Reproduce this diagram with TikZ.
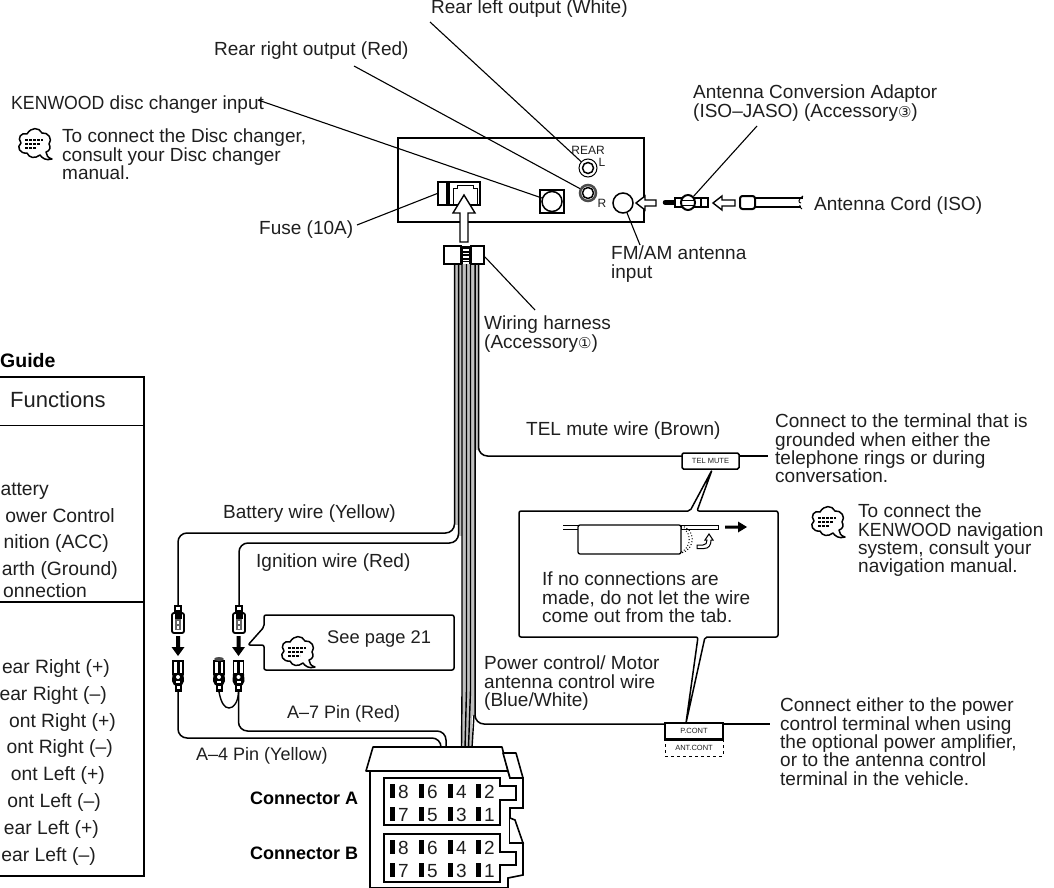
\documentclass[tikz,border=0pt]{standalone}
\usepackage{fontspec}
\setmainfont{Liberation Sans}
\newfontfamily\circfont{DejaVu Sans}
\usetikzlibrary{shapes.geometric,calc}
\definecolor{ink}{gray}{0.12}
\newcommand{\circnum}[1]{{\circfont\fontsize{15}{15}\selectfont #1}}
\newcommand{\kwd}{\scalebox{0.93}[1]{KENWOOD}}
\tikzset{
  txt/.style={inner sep=0pt,anchor=base west,text=ink,font=\fontsize{19}{18.3}\selectfont},
  blk/.style={inner sep=0pt,anchor=north west,align=left,text=ink,font=\fontsize{19}{18.3}\selectfont},
  rtxt/.style={inner sep=0pt,anchor=base east,text=ink,font=\fontsize{19.3}{20}\selectfont},
  btxt/.style={inner sep=0pt,anchor=base west,text=black,font=\fontsize{18}{18.3}\selectfont\bfseries},
  smalltxt/.style={inner sep=0pt,text=ink,font=\fontsize{12}{12}\selectfont},
  tagtxt/.style={inner sep=0pt,text=ink,font=\fontsize{7.5}{8}\selectfont},
  lead/.style={draw=black,line width=1.1pt},
  wire/.style={draw=black,line width=1.5pt,rounded corners=9pt},
  thickbox/.style={draw=black,line width=2pt,fill=white},
  callout/.style={draw=black,line width=1.5pt,fill=white,rounded corners=2pt,line join=round},
  hollow/.style={draw=black,line width=1.4pt,fill=white,line join=miter},
  bubbleicon/.pic={
    \draw[line width=1.5pt,fill=white,line join=round] (-8,-10) .. controls (-4,-17) and (4,-17) .. (7,-11)
      .. controls (13,-12) and (18,-5) .. (14,0)
      .. controls (16,3) and (15,7) .. (11,8)
      .. controls (11,11) and (13,14) .. (17,15)
      .. controls (11,17) and (7,14) .. (5,11)
      .. controls (0,15) and (-6,14) .. (-8,9)
      .. controls (-15,10) and (-19,3) .. (-14,-1)
      .. controls (-18,-6) and (-14,-12) .. (-8,-10) -- cycle;
    \draw[line width=1.7pt,dash pattern=on 3pt off 1pt] (-10,-4) -- (8,-4);
    \draw[line width=1.7pt,dash pattern=on 3pt off 1pt] (-10,0) -- (5,0);
    \draw[line width=1.7pt,dash pattern=on 3pt off 1pt] (-10,4) -- (2,4);
  },
  maleplug/.pic={
    \fill[black] (-4,0) rectangle (4,8);
    \fill[white] (-2,2) rectangle (2,5);
    \draw[line width=1.8pt,fill=white,rounded corners=2pt] (-6,8) rectangle (6,28);
    \fill[black] (-3.5,8) rectangle (3.5,14);
    \fill[black!60] (-3,14) rectangle (3,25);
    \fill[white] (-1,16) rectangle (1,19);
    \fill[white] (-1,21) rectangle (1,24);
  },
  femaleplug/.pic={
    \draw[line width=1.6pt,fill=white] (-5,0) rectangle (5,13);
    \fill[black] (-1.5,1) rectangle (1.5,13);
    \fill[black] (-5.5,13) -- (5.5,13) -- (6,20) -- (4,24) -- (-4,24) -- (-6,20) -- cycle;
    \fill[white] (0,16) circle (2);
    \fill[white] (-2,20) rectangle (2,22);
    \fill[black] (-3.5,24) rectangle (3.5,31);
    \fill[white] (-1.5,25) rectangle (1.5,28);
  },
  blackarrow/.pic={
    \fill[black] (-2,0) -- (2,0) -- (2,11) -- (6.5,11) -- (0,20) -- (-6.5,11) -- (-2,11) -- cycle;
  }
}
\begin{document}
\begin{tikzpicture}[x=1pt,y=-1pt]
\useasboundingbox (0,0) rectangle (1054,888);
\fill[white] (0,0) rectangle (1054,888);

% ---------- left table
\node[btxt,font=\fontsize{19.5}{18.3}\selectfont\bfseries] (guide) at (0,367) {Guide};
\node[txt,font=\fontsize{22}{22}\selectfont] (funct) at (10,407) {Functions};
\draw[line width=1.8pt] (0,377) -- (144,377) -- (144,876) -- (0,876);
\draw[line width=1pt] (0,425) -- (144,425);
\draw[line width=1.5pt] (0,602) -- (144,602);
\node[rtxt] (t1) at (49,495) {attery};
\node[rtxt] (t2) at (115,522) {ower Control};
\node[rtxt] (t3) at (109,548) {nition (ACC)};
\node[rtxt] (t4) at (118,575) {arth (Ground)};
\node[rtxt] (t5) at (87,597) {onnection};
\node[rtxt] (t6) at (110,673) {ear Right (+)};
\node[rtxt] (t7) at (107,700) {ear Right (–)};
\node[rtxt] (t8) at (116,727) {ont Right (+)};
\node[rtxt] (t9) at (113,753) {ont Right (–)};
\node[rtxt] (t10) at (105,780) {ont Left (+)};
\node[rtxt] (t11) at (101,807) {ont Left (–)};
\node[rtxt] (t12) at (99,834) {ear Left (+)};
\node[rtxt] (t13) at (96,861) {ear Left (–)};

% ---------- head unit
\node[thickbox,minimum width=246pt,minimum height=84pt,inner sep=0pt] (unit) at (521,180) {};
\node[draw=black,line width=1.5pt,fill=white,minimum width=9pt,minimum height=23pt,inner sep=0pt] (fuse) at (442.5,193.5) {};
\node[draw=black,line width=1.8pt,fill=white,minimum width=31pt,minimum height=23pt,inner sep=0pt] (socket) at (464.5,193.5) {};
\draw[line width=1pt] (453,204) -- (453,188) -- (457,188) -- (457,185) -- (473,185) -- (473,188) -- (477,188) -- (477,204);
\draw[hollow] (460,242) -- (460,213) -- (453,213) -- (464,195) -- (475,213) -- (468,213) -- (468,242) -- cycle;
\node[draw=black,line width=1.6pt,fill=white,minimum width=24pt,minimum height=23pt,inner sep=0pt] (discsq) at (552,201.5) {};
\node[circle,draw=black,line width=1.5pt,fill=white,minimum size=20pt,inner sep=0pt] (disc) at (552,201.5) {};
\node[circle,draw=black,line width=1pt,fill=white,minimum size=18pt,inner sep=0pt] (jackL) at (588,168) {};
\node[circle,draw=black,line width=1.5pt,fill=white,minimum size=11pt,inner sep=0pt] (jackLi) at (588,168) {};
\node[circle,draw=black!70,line width=2.5pt,fill=white,minimum size=16pt,inner sep=0pt] (jackR) at (588,193) {};
\node[circle,draw=black,line width=1.5pt,fill=white,minimum size=11pt,inner sep=0pt] (jackRi) at (588,193) {};
\node[smalltxt] (rear) at (588,150) {REAR};
\node[smalltxt] (rearL) at (602,162) {L};
\node[smalltxt] (rearR) at (602,203) {R};
\node[circle,draw=black,line width=1.5pt,fill=white,minimum size=20pt,inner sep=0pt] (ant) at (623,203) {};
\draw[hollow] (636,203) -- (645,196) -- (645,200) -- (656,200) -- (656,206) -- (645,206) -- (645,210) -- cycle;

% ---------- antenna adaptor and cord
\draw[line width=4.5pt,line cap=round] (665,202.5) -- (676,202.5);
\node[draw=black,line width=1.8pt,fill=white,minimum width=33pt,minimum height=9pt,inner sep=0pt] (adaptor) at (691.5,202.5) {};
\draw[line width=1.4pt] (701,198) -- (701,207);
\node[ellipse,draw=black,line width=2pt,fill=white,minimum width=14pt,minimum height=15pt,inner sep=0pt] (adaptorC) at (688,202.5) {};
\draw[line width=1pt] (681,200) -- (695,200) (681,205) -- (695,205);
\draw[hollow] (713,203) -- (722,196) -- (722,200) -- (735,200) -- (735,206) -- (722,206) -- (722,210) -- cycle;
\draw[line width=1.8pt] (755,198) -- (803,198) (755,207) -- (801,207);
\draw[line width=1pt] (803,196) .. controls (798,199) and (798,203) .. (801,203) (800,205) .. controls (799,206) and (800,208) .. (802,209);
\node[draw=black,line width=2pt,fill=white,rounded corners=2.5pt,minimum width=15pt,minimum height=13pt,inner sep=0pt] (cordhead) at (747.5,202.5) {};

% ---------- upper labels
\node[txt] (rearLlab) at (431,14) {Rear left output (White)};
\node[txt] (rearRlab) at (214,56) {Rear right output (Red)};
\node[txt] (disclab) at (11,110) {\kwd{} disc changer input};
\node[blk] (discnote) at (62,129) {To connect the Disc changer,\\consult your Disc changer\\manual.};
\pic (bub1) at (35,144) {bubbleicon};
\node[blk] (adlab) at (693,85) {Antenna Conversion Adaptor\\(ISO–JASO) (Accessory\circnum{③})};
\node[txt] (cordlab) at (814,210) {Antenna Cord (ISO)};
\node[txt] (fuselab) at (259,234) {Fuse (10A)};
\node[blk] (fmlab) at (611,246) {FM/AM antenna\\input};
\node[blk] (wirelab) at (484,316) {Wiring harness\\(Accessory\circnum{①})};

\coordinate (lRL) at (430,22);
\coordinate (lRR) at (354,66);
\coordinate (lDC) at (258,100);
\coordinate (lFS) at (357,225);
\coordinate (lAD) at (757,126);
\coordinate (lFM) at (640,245);
\coordinate (lWH) at (535,310);
\draw[lead] (lRL) -- (jackL);
\draw[lead] (lRR) -- (jackR);
\draw[lead] (lDC) -- (disc);
\draw[lead] (lFS) -- (fuse.west);
\draw[lead] (lAD) -- (adaptorC);
\draw[lead] (lFM) -- (ant);

% ---------- wire bundle
\fill[black!25] (454.5,264) rectangle (478.5,450);
\fill[black!25] (454.5,450) rectangle (475,525);
\fill[black!25] (458.5,525) rectangle (475,536);
\fill[black!25] (462,536) rectangle (475,716);
\fill[black!25] (461.5,716) rectangle (472,748);
\foreach \xa/\xb [count=\i] in {462/461.5,466.5/465,470.5/468.5}
  \draw[line width=1.4pt] (\xa,264) -- (\xa,690) -- (\xb,748);
\draw[line width=1.4pt] (474,715) -- (472,748);

% ---------- harness connector
\node[draw=black,line width=2pt,fill=white,minimum width=17pt,minimum height=18pt,inner sep=0pt] (harnL) at (452.5,255) {};
\node[draw=black,line width=2pt,fill=white,minimum width=13pt,minimum height=18pt,inner sep=0pt] (harnR) at (477.5,255) {};
\node[fill=black,minimum width=10pt,minimum height=18pt,inner sep=0pt] (harnM) at (466,255) {};
\foreach \yy in {249,252.5,256,259.5} \fill[white] (463,\yy) rectangle (469,\yy+1.6);
\fill[white] (463,262) rectangle (469,263.5);
\draw[lead] (harnR.east) ++(0,2) -- (lWH);

% ---------- wires peeling off
\coordinate (plugA) at (178,605);
\coordinate (plugB) at (239,605);
\coordinate (sockA) at (178,692);
\coordinate (sockB) at (238.5,692);
\coordinate (sockC) at (219,692);
\coordinate (connA) at (441,748);
\coordinate (connB) at (446,748);
\draw[wire] (454.5,264) -- (454.5,533) -- (178,533) -- (plugA);
\draw[wire] (458.5,264) -- (458.5,543) -- (239,543) -- (plugB);
\draw[wire] (475,264) -- (475,724) -- (665,724);
\draw[wire] (478.5,264) -- (478.5,456) -- (682,456);
\draw[line width=1.5pt] (682,456) -- (768,456);
\draw[line width=1.5pt] (723,724) -- (770,724);
\draw[wire] (sockA) -- (178,738) -- (441,738) -- (connA);
\draw[wire] (sockB) -- (238.5,731) -- (446,731) -- (connB);
\draw[line width=1.4pt] (sockC) .. controls (221,702) and (224,708) .. (229,708) .. controls (234,708) and (238,702) .. (sockB);

% ---------- plugs and arrows
\pic (mA) at (178,605) {maleplug};
\pic (mB) at (239,605) {maleplug};
\pic (aA) at (178,636) {blackarrow};
\pic (aB) at (238.5,636) {blackarrow};
\pic (fA) at (178,661) {femaleplug};
\pic (fB) at (238.5,661) {femaleplug};
\pic (fC) at (219,661) {femaleplug};
\fill[black!70] (219,659) ellipse (5 and 2);

% ---------- labels on wires
\node[txt] (battlab) at (223,518) {Battery wire (Yellow)};
\node[txt] (ignlab) at (256,567) {Ignition wire (Red)};
\node[txt,font=\fontsize{18}{18}\selectfont] (a7lab) at (287,718) {A–7 Pin (Red)};
\node[txt,font=\fontsize{18}{18}\selectfont] (a4lab) at (196,760) {A–4 Pin (Yellow)};
\node[txt] (tellab) at (526,435) {TEL mute wire (Brown)};
\node[blk] (pclab) at (484,656) {Power control/ Motor\\antenna control wire\\(Blue/White)};
\node[blk] (telnote) at (775,414) {Connect to the terminal that is\\grounded when either the\\telephone rings or during\\conversation.};
\node[blk] (navnote) at (858,504) {To connect the\\\kwd{} navigation\\system, consult your\\navigation manual.};
\pic (bub2) at (828,522) {bubbleicon};
\node[blk] (pcnote) at (780,698) {Connect either to the power\\control terminal when using\\the optional power amplifier,\\or to the antenna control\\terminal in the vehicle.};

% ---------- see-page callout
\draw[callout] (264,615) -- (454,615) -- (454,670) -- (264,670) -- (264,645) -- (248,645) -- (264,627) -- cycle;
\pic (bub3) at (298,652) {bubbleicon};
\node[txt,font=\fontsize{18.3}{18}\selectfont] (seelab) at (327,643) {See page 21};

% ---------- tags
\node[draw=black,line width=1.5pt,fill=white,rounded corners=1.5pt,minimum width=57pt,minimum height=16pt,inner sep=0pt,tagtxt] (telmute) at (710.5,461) {TEL MUTE};
\node[draw=black,line width=1.5pt,fill=white,minimum width=58pt,minimum height=16pt,inner sep=0pt,tagtxt] (pcont) at (694,731) {P.CONT};
\node[draw=black,line width=1pt,dashed,fill=white,minimum width=58pt,minimum height=17pt,inner sep=0pt,tagtxt] (antcont) at (694,747.5) {ANT.CONT};
\draw[line width=1.5pt] (pcont.south west) -- (pcont.south east);

% ---------- tab callout
\coordinate (tipT) at (712,470);
\coordinate (tipB) at (686,723);
\draw[callout] (519,511) -- (690,511) -- (tipT) -- (697,511) -- (778,511) -- (778,637) -- (705,637) -- (tipB) -- (698,637) -- (519,637) -- cycle;
\draw[line width=1pt] (563,525) -- (578,525) (563,529) -- (578,529);
\draw[line width=1pt,fill=white] (681,525.5) rectangle (718,529);
\draw[line width=1pt,dotted] (681,528) .. controls (692,530) and (692,548) .. (681,552);
\draw[line width=1pt,dotted] (681,526) .. controls (696,528) and (696,550) .. (681,553);
\node[draw=black,line width=1.3pt,fill=white,rounded corners=2pt,minimum width=103pt,minimum height=29pt,inner sep=0pt] (tabbody) at (629.5,539.5) {};
\fill[black] (725,525.5) -- (738,525.5) -- (738,521.5) -- (747,527) -- (738,532.5) -- (738,528.5) -- (725,528.5) -- cycle;
\draw[line width=1pt,fill=white] (697,545) -- (697,548.5) -- (704,548.5) .. controls (709,548.5) and (711,545) .. (711,540) -- (713,540) -- (709,534) -- (705,540) -- (707,540) .. controls (707,543) and (706,545) .. (703,545) -- cycle;
\node[blk] (tabnote) at (542,572) {If no connections are\\made, do not let the wire\\come out from the tab.};

% ---------- connector block
\draw[line width=1.6pt,fill=white,line join=round] (373,747) -- (502,747) -- (508,771) -- (366,771) -- cycle;
\draw[line width=1.6pt,fill=white] (366,771) -- (508,771) -- (510,778) -- (523,778) -- (523,808) -- (510,808) -- (510,843) -- (523,843) -- (523,875) -- (508,878) -- (508,888) -- (370,888) -- (370,771);
\draw[line width=1.6pt,fill=white,line join=round] (503,753) -- (516,753) -- (523,778) -- (510,778) -- cycle;
\draw[line width=1.6pt,fill=white] (510,818) -- (515,820) -- (523,843) -- (510,843);
\draw[line width=1.6pt,fill=white] (384,778) -- (500,778) -- (500,786) -- (516,786) -- (516,800) -- (500,800) -- (500,825) -- (384,825) -- cycle;
\draw[line width=1.6pt,fill=white] (384,834) -- (500,834) -- (500,852) -- (516,852) -- (516,865) -- (500,865) -- (500,882) -- (384,882) -- cycle;
\foreach \yy/\da/\db/\dc/\dd [count=\r] in {798/8/6/4/2,821/7/5/3/1,854/8/6/4/2,877/7/5/3/1}{
  \foreach \xx/\dg [count=\c] in {390/\da,419/\db,448/\dc,476/\dd}{
    \fill[black] (\xx,\yy-14) rectangle (\xx+5,\yy);
    \node[txt,name=pin\r\c] at (\xx+8,\yy) {\dg};
  }
}
\node[btxt] (ca) at (250,804) {Connector A};
\node[btxt] (cb) at (250,859) {Connector B};
\end{tikzpicture}
\end{document}
